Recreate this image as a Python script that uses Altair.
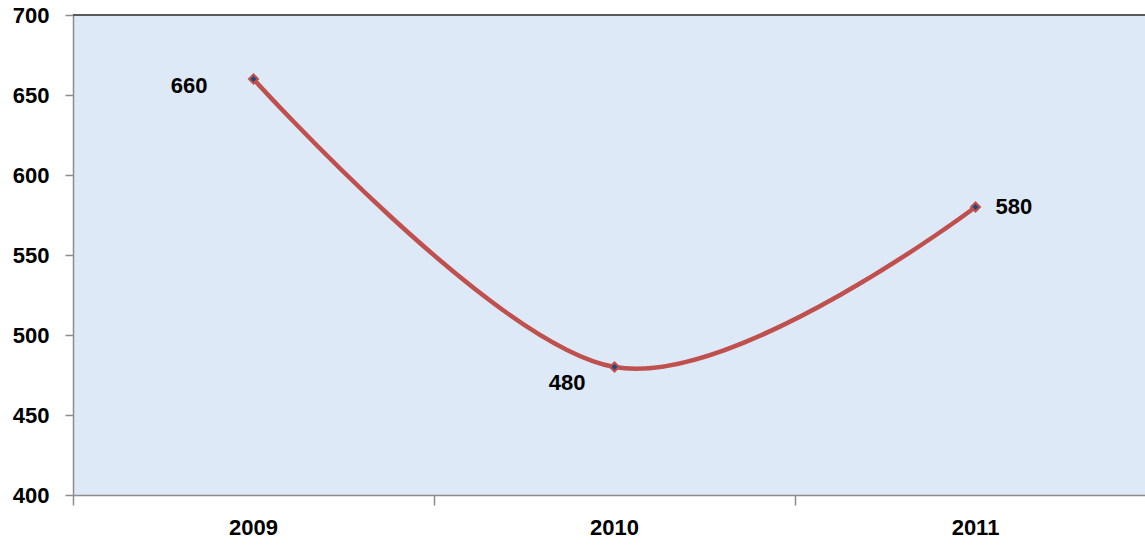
import altair as alt
import pandas as pd

years = ["2009", "2010", "2011"]
values = [660, 480, 580]

df = pd.DataFrame({"year": years, "value": values})

W, H = 1072, 480
BAND_SPAN = 1083  # the category bands run slightly past the right edge
FONT = "Liberation Sans"
AXIS_GRAY = "#8C8C8C"

x = alt.X(
    "year:N",
    sort=years,
    scale=alt.Scale(type="band", paddingInner=0, paddingOuter=0, range=[0, BAND_SPAN]),
    axis=alt.Axis(
        title=None,
        bandPosition=0,
        tickExtra=False,
        labelOffset=0,
        labelAngle=0,
        tickSize=10,
        labelPadding=12,
        labelFont=FONT,
        labelFontSize=22,
        labelFontWeight="bold",
        labelColor="#000000",
        domainColor=AXIS_GRAY,
        domainWidth=1.5,
        tickColor=AXIS_GRAY,
        tickWidth=1.5,
        grid=False,
    ),
)
y = alt.Y(
    "value:Q",
    scale=alt.Scale(domain=[400, 700], nice=False, zero=False),
    axis=alt.Axis(
        title=None,
        values=[400, 450, 500, 550, 600, 650, 700],
        tickSize=8,
        labelPadding=16,
        labelFont=FONT,
        labelFontSize=22,
        labelFontWeight="bold",
        labelColor="#000000",
        domainColor=AXIS_GRAY,
        domainWidth=1.5,
        tickColor=AXIS_GRAY,
        tickWidth=1.5,
        grid=False,
    ),
)

base = alt.Chart(df).encode(x=x, y=y)

line = base.mark_line(color="#C0504D", strokeWidth=4.5, interpolate="cardinal")
points = base.mark_point(
    shape="diamond", filled=True, fill="#1F497D", stroke="#C0504D",
    strokeWidth=2, size=80, opacity=1,
)

label_style = dict(font=FONT, fontSize=22, fontWeight="bold", color="#000000", baseline="middle")
lab_2009 = base.transform_filter(alt.datum.year == "2009").mark_text(
    align="right", dx=-46, dy=7, **label_style).encode(text="value:Q")
lab_2010 = base.transform_filter(alt.datum.year == "2010").mark_text(
    align="right", dx=-29, dy=16, **label_style).encode(text="value:Q")
lab_2011 = base.transform_filter(alt.datum.year == "2011").mark_text(
    align="left", dx=20, dy=0, **label_style).encode(text="value:Q")

top_border = alt.Chart(df).mark_rule(color="#5A5A5A", strokeWidth=2).encode(
    x=alt.value(0), x2=alt.value(W), y=alt.value(0)
)

chart = (
    alt.layer(line, points, lab_2009, lab_2010, lab_2011, top_border)
    .properties(
        width=W,
        height=H,
        padding={"left": 73, "top": 15, "right": 0, "bottom": 52},
        autosize=alt.AutoSizeParams(type="none"),
        background="#FFFFFF",
    )
    .configure_view(fill="#DDE9F7", stroke=None)
)

chart.save("out.html", embed_options={"renderer": "svg", "actions": False})
